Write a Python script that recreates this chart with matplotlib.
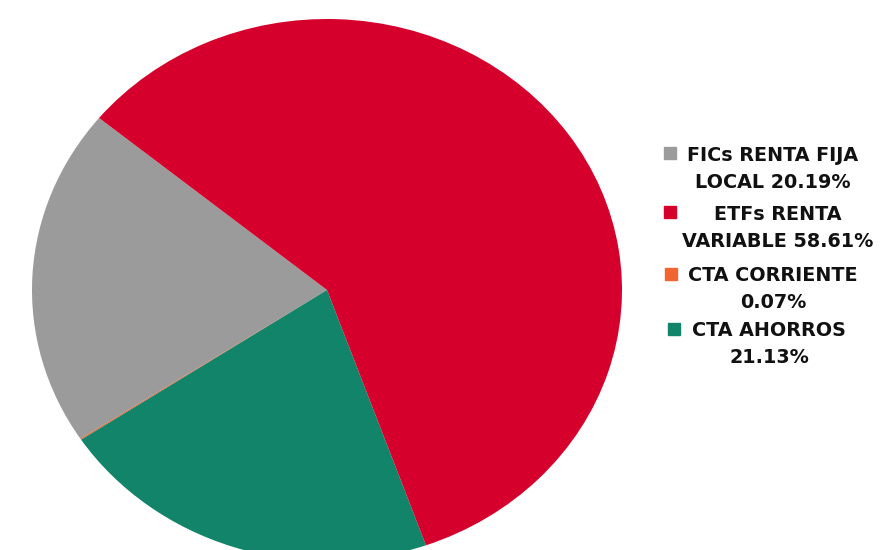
import matplotlib.pyplot as plt
from matplotlib.patches import Rectangle

labels = ['FICs RENTA FIJA\nLOCAL 20.19%', 'ETFs RENTA\nVARIABLE 58.61%',
          'CTA CORRIENTE\n0.07%', 'CTA AHORROS\n21.13%']
values = [20.19, 58.61, 0.07, 21.13]
colors = ['#9B9B9B', '#D5002B', '#F26430', '#12846A']

# slice order in the picture, counterclockwise from the upper-left edge
order = [0, 2, 3, 1]

fig = plt.figure(figsize=(8.82, 5.5), dpi=100)
W, H = 882, 550
cx, cy, rx, ry = 327, 290, 295, 271
ax = fig.add_axes([(cx - rx) / W, (H - cy - ry) / H, 2 * rx / W, 2 * ry / H])

ax.pie([values[i] for i in order], colors=[colors[i] for i in order],
       startangle=140.6, counterclock=True, radius=1)
ax.set_aspect('auto')
ax.set_xlim(-1, 1)
ax.set_ylim(-1, 1)

# hand-made legend: square marker next to first line, lines centred
mark_x = [664, 664, 665, 668]
mark_y = [147, 206, 268, 323]
text_cx = [773, 778, 773, 769]
base_y = [161, 220, 281, 336]
font = dict(family='DejaVu Sans', weight='bold', size=13.8, color='#111111')
for i, lab in enumerate(labels):
    fig.patches.append(Rectangle((mark_x[i] / W, 1 - (mark_y[i] + 12) / H), 12 / W, 12 / H,
                                 transform=fig.transFigure, color=colors[i]))
    for j, line in enumerate(lab.split('\n')):
        fig.text(text_cx[i] / W, 1 - (base_y[i] + 27 * j) / H, line,
                 ha='center', va='baseline', **font)

fig.savefig('out.png', dpi=100)
